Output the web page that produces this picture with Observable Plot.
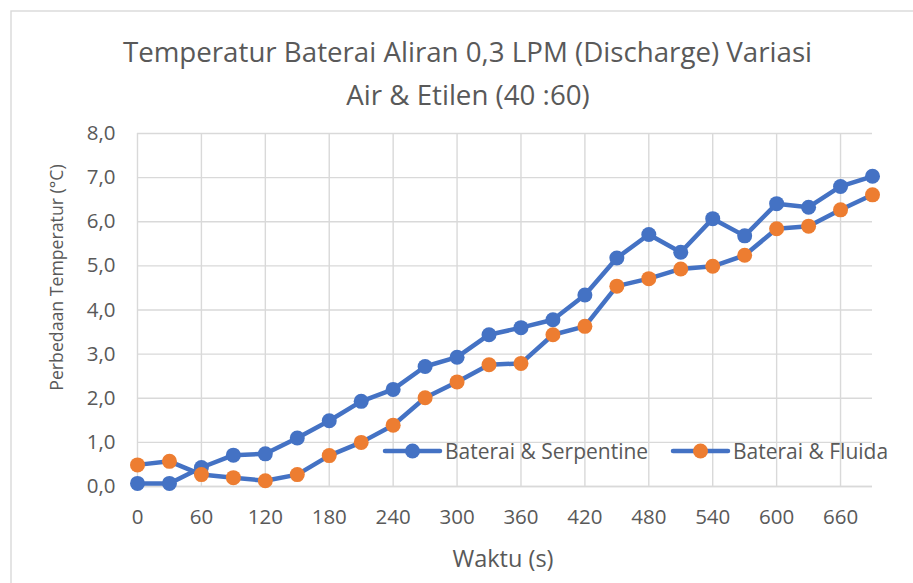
<!DOCTYPE html>
<html>
<head>
<meta charset="utf-8">
<script src="https://cdn.jsdelivr.net/npm/d3@7"></script>
<script src="https://cdn.jsdelivr.net/npm/@observablehq/plot@0.6"></script>
<style>
  html, body { margin: 0; padding: 0; background: #fff; }
  #chart { width: 913px; height: 583px; }
</style>
</head>
<body>
<div id="chart"></div>
<script>
const titleLines = ["Temperatur Baterai Aliran 0,3 LPM (Discharge) Variasi", "Air & Etilen (40 :60)"];
const xLabel = "Waktu (s)";
const yLabel = "Perbedaan Temperatur (°C)";
const seriesNames = ["Baterai & Serpentine", "Baterai & Fluida"];
const times = [0, 30, 60, 90, 120, 150, 180, 210, 240, 270, 300, 330, 360, 390, 420, 450, 480, 510, 540, 570, 600, 630, 660, 690];
const serpentine = [0.07, 0.07, 0.43, 0.71, 0.74, 1.10, 1.49, 1.93, 2.20, 2.72, 2.93, 3.44, 3.60, 3.78, 4.34, 5.18, 5.71, 5.31, 6.07, 5.68, 6.41, 6.33, 6.80, 7.03];
const fluida = [0.49, 0.57, 0.27, 0.20, 0.13, 0.27, 0.70, 1.00, 1.39, 2.01, 2.37, 2.76, 2.79, 3.44, 3.63, 4.54, 4.71, 4.93, 4.99, 5.24, 5.84, 5.90, 6.27, 6.61];
const xTicks = [0, 60, 120, 180, 240, 300, 360, 420, 480, 540, 600, 660];
const yTicks = [0, 1, 2, 3, 4, 5, 6, 7, 8];

const BLUE = "#4472C4", ORANGE = "#ED7D31", GRID = "#d9d9d9", TEXT = "#595959";
const FONT = "'Open Sans', sans-serif";

const dataS = times.map((t, i) => ({t, v: serpentine[i]}));
const dataF = times.map((t, i) => ({t, v: fluida[i]}));
const fmt = d => d.toFixed(1).replace(".", ",");

const svg = Plot.plot({
  width: 913,
  height: 583,
  marginLeft: 137,
  marginRight: 41,
  marginTop: 133,
  marginBottom: 97,
  style: {fontFamily: FONT, background: "#fff", overflow: "visible"},
  x: {domain: [0, 690]},
  y: {domain: [0, 8]},
  marks: [
    Plot.gridX(xTicks, {stroke: GRID, strokeOpacity: 1, strokeWidth: 1.4}),
    Plot.gridY(yTicks, {stroke: GRID, strokeOpacity: 1, strokeWidth: 1.4}),
    Plot.ruleY([0], {stroke: GRID, strokeWidth: 1.6}),
    Plot.axisX(xTicks, {tickSize: 0, tickPadding: 22.5, fontSize: 20.5, color: TEXT, label: null, tickFormat: d => String(d)}),
    Plot.axisY(yTicks, {tickSize: 0, tickPadding: 22, fontSize: 20.5, color: TEXT, label: null, tickFormat: fmt}),
    Plot.line(dataS, {x: "t", y: "v", stroke: BLUE, strokeWidth: 4.5, strokeLinejoin: "round", strokeLinecap: "round"}),
    Plot.dot(dataS, {x: "t", y: "v", r: 7.5, fill: BLUE, stroke: null}),
    Plot.line(dataF, {x: "t", y: "v", stroke: BLUE, strokeWidth: 4.5, strokeLinejoin: "round", strokeLinecap: "round"}),
    Plot.dot(dataF, {x: "t", y: "v", r: 7.5, fill: ORANGE, stroke: null})
  ]
});

const s = d3.select(svg);
// chart border
s.insert("rect", ":first-child")
  .attr("x", 11).attr("y", 11).attr("width", 1000).attr("height", 700)
  .attr("fill", "none").attr("stroke", GRID).attr("stroke-width", 1.4);

// title
s.append("text").attr("x", 467.5).attr("y", 62).attr("text-anchor", "middle")
  .attr("font-family", FONT).attr("font-size", 27.7).attr("fill", TEXT).text(titleLines[0]);
s.append("text").attr("x", 468).attr("y", 105).attr("text-anchor", "middle")
  .attr("font-family", FONT).attr("font-size", 27.7).attr("fill", TEXT).text(titleLines[1]);

// axis titles
s.append("text").attr("x", 503).attr("y", 567).attr("text-anchor", "middle")
  .attr("font-family", FONT).attr("font-size", 23.5).attr("fill", TEXT).text(xLabel);
s.append("text").attr("transform", "translate(63,277.5) rotate(-90)").attr("text-anchor", "middle")
  .attr("font-family", FONT).attr("font-size", 17.7).attr("fill", TEXT).text(yLabel);

// legend
const legend = [
  {name: seriesNames[0], x0: 385, fill: BLUE},
  {name: seriesNames[1], x0: 673, fill: ORANGE}
];
legend.forEach(l => {
  const g = s.append("g");
  g.append("line").attr("x1", l.x0).attr("x2", l.x0 + 55).attr("y1", 451).attr("y2", 451)
    .attr("stroke", BLUE).attr("stroke-width", 4.5).attr("stroke-linecap", "round");
  g.append("circle").attr("cx", l.x0 + 27.5).attr("cy", 451).attr("r", 7.5).attr("fill", l.fill);
  g.append("text").attr("x", l.x0 + 60).attr("y", 458.5).attr("text-anchor", "start")
    .attr("font-family", FONT).attr("font-size", 21).attr("fill", TEXT).text(l.name);
});

document.getElementById("chart").appendChild(svg);
</script>
</body>
</html>
